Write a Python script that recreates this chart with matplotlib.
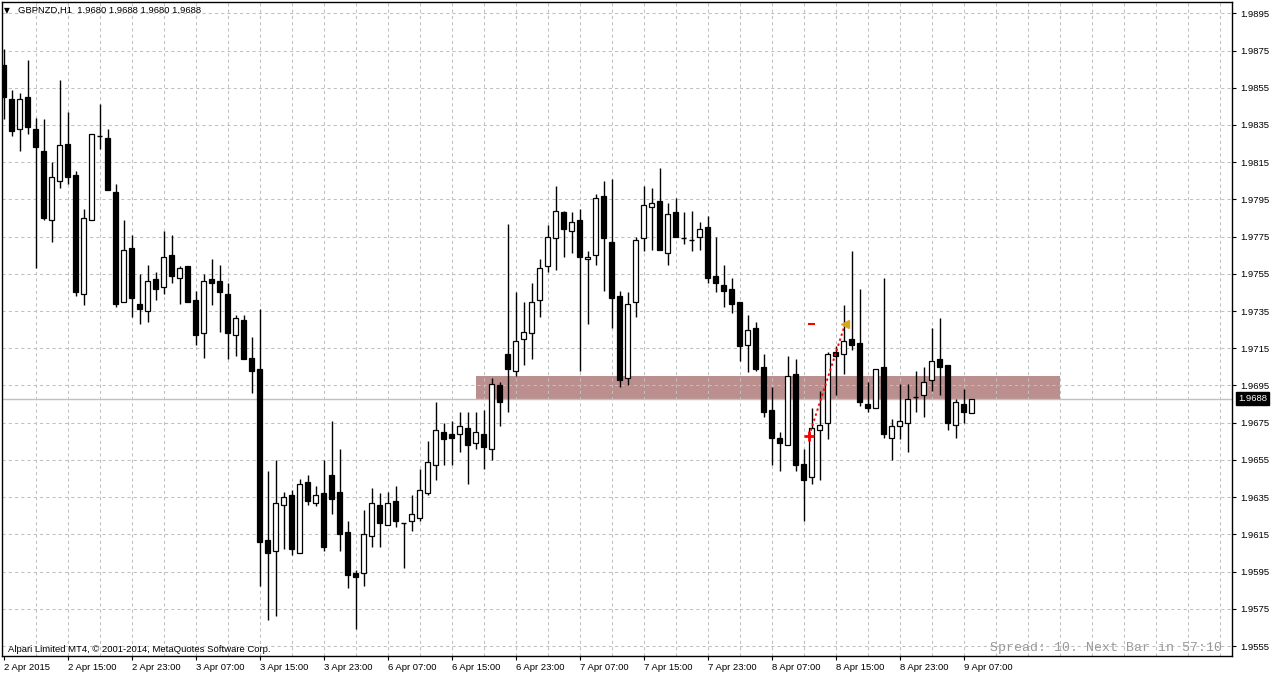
import numpy as np
import matplotlib
matplotlib.use("Agg")
import matplotlib.pyplot as plt
from matplotlib.patches import Rectangle

plt.rcParams['font.family'] = ['Liberation Sans', 'DejaVu Sans']

# GBPNZD H1 candles, 2 Apr 07:00 .. 9 Apr 08:00 (bar index = hours of trading)
opens = [1.9867, 1.9849, 1.9833, 1.9850, 1.9833, 1.9821, 1.9784, 1.9805, 1.9825, 1.9808,
         1.9744, 1.9784, 1.9829, 1.9828, 1.9799, 1.9740, 1.9769, 1.9739, 1.9735, 1.9752,
         1.9748, 1.9765, 1.9753, 1.9759, 1.9741, 1.9723, 1.9752, 1.9751, 1.9744, 1.9722,
         1.9730, 1.9710, 1.9704, 1.9612, 1.9606, 1.9631, 1.9636, 1.9605, 1.9643, 1.9632,
         1.9637, 1.9647, 1.9638, 1.9616, 1.9594, 1.9594, 1.9614, 1.9631, 1.9620, 1.9633,
         1.9621, 1.9622, 1.9624, 1.9637, 1.9652, 1.9670, 1.9669, 1.9669, 1.9672, 1.9664,
         1.9669, 1.9661, 1.9695, 1.9712, 1.9703, 1.9720, 1.9723, 1.9741, 1.9759, 1.9774,
         1.9788, 1.9778, 1.9784, 1.9763, 1.9765, 1.9797, 1.9772, 1.9743, 1.9699, 1.9740,
         1.9774, 1.9791, 1.9794, 1.9766, 1.9788, 1.9774, 1.9773, 1.9775, 1.9780, 1.9754,
         1.9749, 1.9747, 1.9740, 1.9717, 1.9726, 1.9705, 1.9682, 1.9667, 1.9663, 1.9701,
         1.9653, 1.9646, 1.9671, 1.9675, 1.9713, 1.9712, 1.9720, 1.9718, 1.9685, 1.9683,
         1.9705, 1.9667, 1.9673, 1.9675, 1.9689, 1.9690, 1.9698, 1.9709, 1.9706, 1.9674,
         1.9685, 1.9680]
highs = [1.9876, 1.9854, 1.9852, 1.9870, 1.9839, 1.9838, 1.9815, 1.9859, 1.9842, 1.9810,
         1.9790, 1.9830, 1.9846, 1.9833, 1.9803, 1.9784, 1.9776, 1.9755, 1.9760, 1.9756,
         1.9778, 1.9776, 1.9759, 1.9759, 1.9746, 1.9755, 1.9763, 1.9760, 1.9750, 1.9733,
         1.9733, 1.9721, 1.9736, 1.9649, 1.9655, 1.9638, 1.9639, 1.9645, 1.9647, 1.9641,
         1.9655, 1.9676, 1.9661, 1.9622, 1.9596, 1.9628, 1.9640, 1.9637, 1.9638, 1.9641,
         1.9621, 1.9636, 1.9650, 1.9665, 1.9686, 1.9675, 1.9676, 1.9681, 1.9681, 1.9681,
         1.9682, 1.9699, 1.9697, 1.9782, 1.9745, 1.9740, 1.9750, 1.9763, 1.9781, 1.9802,
         1.9789, 1.9788, 1.9790, 1.9767, 1.9798, 1.9805, 1.9806, 1.9746, 1.9745, 1.9775,
         1.9802, 1.9801, 1.9812, 1.9793, 1.9796, 1.9788, 1.9789, 1.9783, 1.9786, 1.9775,
         1.9760, 1.9753, 1.9740, 1.9733, 1.9729, 1.9712, 1.9694, 1.9670, 1.9711, 1.9709,
         1.9661, 1.9683, 1.9692, 1.9713, 1.9716, 1.9738, 1.9767, 1.9747, 1.9697, 1.9704,
         1.9753, 1.9677, 1.9696, 1.9696, 1.9703, 1.9705, 1.9726, 1.9731, 1.9706, 1.9688,
         1.9693, 1.9688]
lows = [1.9838, 1.9829, 1.9821, 1.9830, 1.9758, 1.9784, 1.9772, 1.9801, 1.9803, 1.9743,
        1.9738, 1.9784, 1.9822, 1.9800, 1.9737, 1.9740, 1.9732, 1.9728, 1.9729, 1.9741,
        1.9744, 1.9750, 1.9739, 1.9740, 1.9717, 1.9710, 1.9738, 1.9724, 1.9709, 1.9711,
        1.9709, 1.9691, 1.9587, 1.9569, 1.9571, 1.9607, 1.9604, 1.9605, 1.9631, 1.9630,
        1.9606, 1.9626, 1.9606, 1.9586, 1.9564, 1.9587, 1.9608, 1.9608, 1.9620, 1.9619,
        1.9597, 1.9617, 1.9622, 1.9636, 1.9644, 1.9652, 1.9652, 1.9659, 1.9642, 1.9661,
        1.9650, 1.9655, 1.9673, 1.9681, 1.9700, 1.9706, 1.9709, 1.9732, 1.9756, 1.9757,
        1.9764, 1.9766, 1.9703, 1.9728, 1.9760, 1.9746, 1.9726, 1.9694, 1.9695, 1.9732,
        1.9767, 1.9768, 1.9768, 1.9760, 1.9775, 1.9771, 1.9767, 1.9768, 1.9750, 1.9745,
        1.9737, 1.9734, 1.9708, 1.9702, 1.9703, 1.9678, 1.9652, 1.9649, 1.9663, 1.9649,
        1.9622, 1.9642, 1.9644, 1.9666, 1.9690, 1.9701, 1.9714, 1.9684, 1.9681, 1.9683,
        1.9667, 1.9655, 1.9666, 1.9659, 1.9681, 1.9678, 1.9692, 1.9690, 1.9671, 1.9667,
        1.9675, 1.9680]
closes = [1.9850, 1.9832, 1.9849, 1.9834, 1.9823, 1.9785, 1.9807, 1.9824, 1.9807, 1.9745,
          1.9785, 1.9830, 1.9829, 1.9800, 1.9739, 1.9768, 1.9742, 1.9736, 1.9751, 1.9747,
          1.9764, 1.9754, 1.9758, 1.9740, 1.9722, 1.9751, 1.9750, 1.9745, 1.9723, 1.9731,
          1.9709, 1.9703, 1.9611, 1.9605, 1.9632, 1.9635, 1.9607, 1.9642, 1.9633, 1.9636,
          1.9608, 1.9634, 1.9615, 1.9593, 1.9592, 1.9615, 1.9632, 1.9621, 1.9632, 1.9622,
          1.9621, 1.9626, 1.9639, 1.9654, 1.9671, 1.9666, 1.9667, 1.9673, 1.9663, 1.9670,
          1.9662, 1.9696, 1.9686, 1.9704, 1.9719, 1.9724, 1.9740, 1.9758, 1.9775, 1.9789,
          1.9779, 1.9783, 1.9764, 1.9764, 1.9796, 1.9774, 1.9742, 1.9698, 1.9739, 1.9773,
          1.9792, 1.9793, 1.9768, 1.9787, 1.9775, 1.9774, 1.9773, 1.9779, 1.9753, 1.9750,
          1.9746, 1.9739, 1.9716, 1.9725, 1.9704, 1.9681, 1.9667, 1.9664, 1.9700, 1.9652,
          1.9644, 1.9672, 1.9674, 1.9712, 1.9711, 1.9719, 1.9717, 1.9686, 1.9683, 1.9704,
          1.9669, 1.9673, 1.9676, 1.9688, 1.9689, 1.9697, 1.9708, 1.9705, 1.9675, 1.9686,
          1.9681, 1.9688]

time_ticks = [0, 8, 16, 24, 32, 40, 48, 56, 64, 72, 80, 88, 96, 104, 112, 120]
time_labels = ["2 Apr 2015", "2 Apr 15:00", "2 Apr 23:00", "3 Apr 07:00", "3 Apr 15:00",
               "3 Apr 23:00", "6 Apr 07:00", "6 Apr 15:00", "6 Apr 23:00", "7 Apr 07:00",
               "7 Apr 15:00", "7 Apr 23:00", "8 Apr 07:00", "8 Apr 15:00", "8 Apr 23:00",
               "9 Apr 07:00"]
price_ticks = np.round(np.arange(1.9555, 1.9896, 0.0020), 4)

zone_bars = (59, 132)          # rectangle start / end bar
zone_prices = (1.9687, 1.9700)
last_price = 1.9688
trade_open = (100.7, 1.9668)
trade_close = (105.2, 1.9728)
tp_mark = (100.5, 101.4, 1.9728)

W, H = 1272, 674
fig = plt.figure(figsize=(W / 100, H / 100), dpi=100)
ax = fig.add_axes([2 / W, (H - 656) / H, 1230 / W, 654 / H])
ax.set_xlim((2 - 3.5) / 8, (1232 - 3.5) / 8)
ax.set_ylim(1.954963, 1.990107)

# grid
grid_kw = dict(color='#c0c0c0', lw=0.75, ls=(0, (3, 3)), zorder=1)
for g in np.arange(4, 154, 4):
    ax.axvline(g, **grid_kw)
for p in price_ticks:
    ax.axhline(p, **grid_kw)

# zone rectangle
ax.add_patch(Rectangle((zone_bars[0], zone_prices[0]), zone_bars[1] - zone_bars[0],
                       zone_prices[1] - zone_prices[0], facecolor='#bc8f8f',
                       edgecolor='none', zorder=0.5))
# bid line
ax.axhline(last_price, color='#c0c0c0', lw=1, zorder=1.5)

# candles
x = np.arange(len(opens))
o = np.array(opens); h = np.array(highs); l = np.array(lows); c = np.array(closes)
ax.vlines(x, l, h, color='black', lw=1, zorder=2)
bw = 0.56
for xi, oi, ci in zip(x, o, c):
    if abs(ci - oi) < 1e-9:
        ax.hlines(oi, xi - bw / 2, xi + bw / 2, color='black', lw=1, zorder=3)
        continue
    fc = 'white' if ci > oi else 'black'
    ax.bar(xi, abs(ci - oi), bottom=min(oi, ci), width=bw, facecolor=fc,
           edgecolor='black', linewidth=0.9, zorder=3)

# trade arrows
ax.plot([trade_open[0], trade_close[0]], [trade_open[1], trade_close[1]],
        color='red', lw=1.4, ls=(0, (1.2, 1.5)), zorder=4)
ax.plot(*trade_open, marker='+', color='red', ms=7, mew=2, zorder=5)
ax.plot(*trade_close, marker='<', color='#daa520', ms=6, zorder=5)
ax.hlines(tp_mark[2], tp_mark[0], tp_mark[1], color='red', lw=1.5, zorder=5)

# axes styling
for s in ax.spines.values():
    s.set_color('black'); s.set_linewidth(1)
ax.yaxis.tick_right()
ax.set_yticks(price_ticks)
ax.set_yticklabels([f"{p:.4f}" for p in price_ticks])
ax.set_xticks(time_ticks)
ax.set_xticklabels(time_labels)
for lab in ax.get_xticklabels():
    lab.set_ha('left')
ax.tick_params(axis='both', direction='out', length=3, width=0.8, labelsize=6.8, colors='black')
ax.tick_params(axis='y', pad=3)
ax.tick_params(axis='x', pad=2)

ax.annotate(f"{last_price:.4f}", xy=(1, last_price), xycoords=('axes fraction', 'data'),
            xytext=(4.3, 0), textcoords='offset points', va='center', ha='left',
            color='white', fontsize=6.8, annotation_clip=False,
            bbox=dict(boxstyle='square,pad=0.25', fc='black', ec='black'))

# texts
fig.text(7 / W, 1 - 10.5 / H, '\u25bc', family='DejaVu Sans', fontsize=5.5,
         ha='center', va='center', color='black')
fig.text(18 / W, 1 - 10 / H, 'GBPNZD,H1  1.9680 1.9688 1.9680 1.9688', fontsize=6.8,
         ha='left', va='center', color='black')
fig.text(8 / W, 1 - 649 / H, 'Alpari Limited MT4, \u00a9 2001-2014, MetaQuotes Software Corp.',
         fontsize=6.8, ha='left', va='center', color='black')
fig.text(1222 / W, 1 - 648 / H, 'Spread: 10. Next Bar in 57:10', family='Liberation Mono',
         fontsize=9.5, ha='right', va='center', color='#999999')

fig.savefig('out.png', dpi=100)
